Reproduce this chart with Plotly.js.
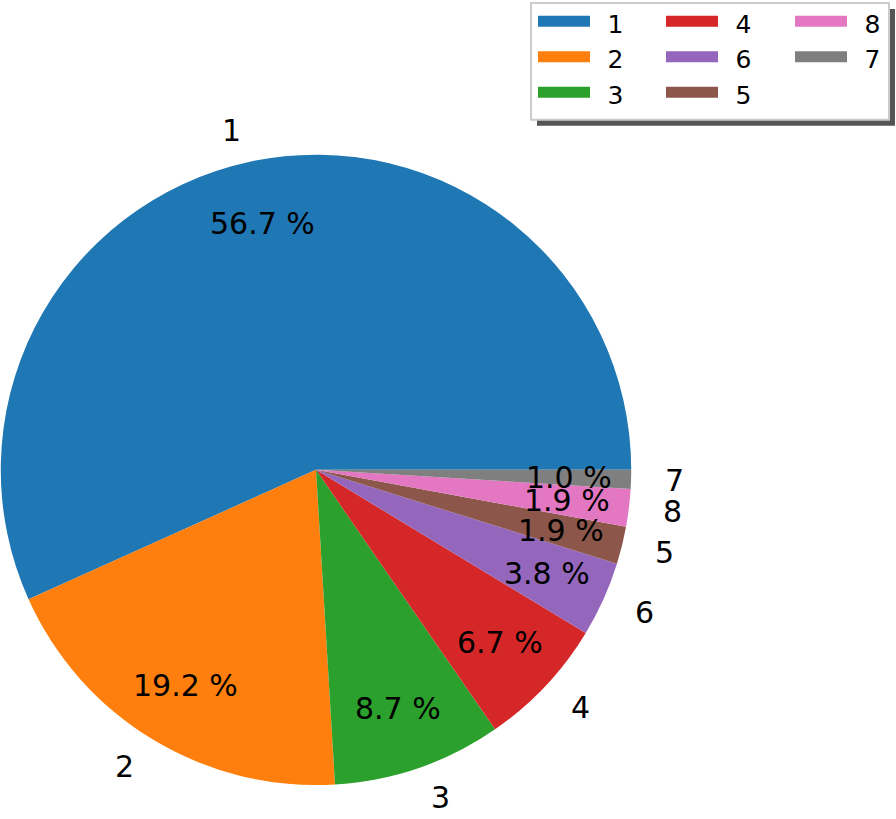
<!DOCTYPE html>
<html>
<head>
<meta charset="utf-8">
<script src="https://cdn.plot.ly/plotly-3.0.1.min.js"></script>
<style>
  html, body { margin: 0; padding: 0; background: #fff; }
  #pie_chart { width: 896px; height: 819px; }
</style>
</head>
<body>
<div id="pie_chart"></div>
<script>
// slice order as drawn (counter-clockwise from 3 o'clock)
const labels = ['1', '2', '3', '4', '6', '5', '8', '7']
const counts = [59, 20, 9, 7, 4, 2, 2, 1]
const colors = ['#1f77b4', '#ff7f0e', '#2ca02c', '#d62728', '#9467bd', '#8c564b', '#e377c2', '#7f7f7f']

const W = 896, H = 819
const cx = 316, cy = 469, r = 316   // pie centre / radius in px
const txtFont = {family: 'DejaVu Sans', size: 30, color: '#000'}

let total = counts.reduce((a, b) => a + b, 0)

// percentage labels at 0.8 r, names at 1.1 r (matplotlib style)
let annotations = []
let cum = 0
for (let i = 0; i < counts.length; i++) {
  let mid = 2 * Math.PI * (cum + counts[i] / 2) / total
  cum += counts[i]
  let c = Math.cos(mid), s = Math.sin(mid)
  annotations.push({
    xref: 'paper', yref: 'paper', showarrow: false, font: txtFont,
    x: (cx + 0.8 * r * c) / W, y: 1 - (cy - 0.8 * r * s) / H,
    xanchor: 'center', yanchor: 'middle',
    text: (100 * counts[i] / total).toFixed(1) + ' %'
  })
  annotations.push({
    xref: 'paper', yref: 'paper', showarrow: false, font: txtFont,
    x: (cx + 1.1 * r * c) / W, y: 1 - (cy - 1.1 * r * s) / H,
    xanchor: c > 0 ? 'left' : 'right', yanchor: 'middle',
    text: labels[i]
  })
}

let data = []
// legend entries only (no data), 3 per column like the matplotlib legend
const legendIds = ['legend', 'legend2', 'legend3']
for (let i = 0; i < labels.length; i++) {
  data.push({
    type: 'scatter', mode: 'lines', x: [null], y: [null],
    name: '\u2002' + labels[i], fill: 'toself', fillcolor: colors[i],
    line: {color: colors[i], width: 10},
    legend: legendIds[Math.floor(i / 3)], legendgroup: 'g' + i, hoverinfo: 'skip'
  })
}
data.push({
  type: 'pie',
  values: counts,
  labels: labels,
  marker: {colors: colors, line: {width: 0}},
  sort: false,
  direction: 'counterclockwise',
  // plotly puts the END of the first ccw slice at `rotation`, so start slice 1 at 3 o'clock
  rotation: 90 - 360 * counts[0] / total,
  textinfo: 'none',
  showlegend: false,
  domain: {x: [(cx - r) / W, (cx + r) / W], y: [1 - (cy + r) / H, 1 - (cy - r) / H]}
})

let legendBase = {
  xanchor: 'left', yanchor: 'top', y: 1 + 2 / H,
  bgcolor: 'rgba(0,0,0,0)', borderwidth: 0,
  font: {family: 'DejaVu Sans', size: 25, color: '#000'},
  itemwidth: 52, tracegroupgap: 0
}
const patchLeft = [540, 668, 797]

var layout = {
  width: W, height: H,
  margin: {l: 0, r: 0, t: 0, b: 0},
  paper_bgcolor: '#fff',
  plot_bgcolor: '#fff',
  xaxis: {visible: false},
  yaxis: {visible: false},
  showlegend: true,
  legend: Object.assign({}, legendBase, {x: (patchLeft[0] - 7) / W}),
  legend2: Object.assign({}, legendBase, {x: (patchLeft[1] - 7) / W}),
  legend3: Object.assign({}, legendBase, {x: (patchLeft[2] - 7) / W}),
  annotations: annotations,
  shapes: [
    {type: 'rect', xref: 'paper', yref: 'paper', layer: 'above',
     x0: 537 / W, x1: 895 / W, y0: 1 - 7 / H, y1: 1 - 124 / H,
     fillcolor: '#555', line: {width: 0}},
    {type: 'rect', xref: 'paper', yref: 'paper', layer: 'above',
     x0: 531 / W, x1: 889 / W, y0: 1 - 1 / H, y1: 1 - 118 / H,
     fillcolor: '#fff', line: {color: '#cccccc', width: 2}}
  ]
}

Plotly.newPlot('pie_chart', data, layout, {staticPlot: true})
</script>
</body>
</html>
